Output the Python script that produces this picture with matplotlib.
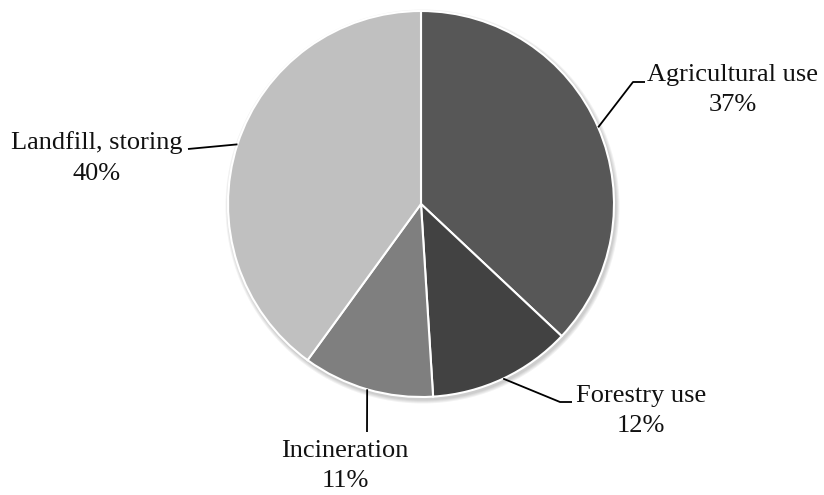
import matplotlib
matplotlib.use("Agg")
import matplotlib.pyplot as plt
from matplotlib.patches import Circle
import numpy as np

categories = ["Agricultural use", "Forestry use", "Incineration", "Landfill, storing"]
values = [37, 12, 11, 40]
colors = ["#575757", "#424242", "#7f7f7f", "#c0c0c0"]

W, H = 824, 495
fig = plt.figure(figsize=(W / 100, H / 100), dpi=100)
ax = fig.add_axes([0, 0, 1, 1])

cx, cy, r = 421, H - 204, 193

# soft shadow
for k in range(4):
    ax.add_patch(Circle((cx + 1.5, cy - 2.5), r + 1 + k, facecolor="black",
                        edgecolor="none", alpha=0.05, zorder=0))

wedges, _ = ax.pie(values, startangle=90, counterclock=False, colors=colors,
                   center=(cx, cy), radius=r, frame=True,
                   wedgeprops=dict(edgecolor="white", linewidth=1.5, zorder=2))
ax.set_xlim(0, W)
ax.set_ylim(0, H)
ax.set_aspect("equal")
ax.axis("off")

# label layout (pixel coords from top): elbow points and text centers
layout = {
    "Agricultural use": dict(path=[(633, 82), (645, 82)], text=(733, 90)),
    "Forestry use": dict(path=[(560, 402), (572, 402)], text=(641, 411)),
    "Incineration": dict(path=[(367, 432)], text=(345, 466)),
    "Landfill, storing": dict(path=[(188, 149)], text=(97, 158)),
}

total = sum(values)
for w, cat, v in zip(wedges, categories, values):
    ang = np.deg2rad((w.theta1 + w.theta2) / 2)
    ex, ey = cx + r * np.cos(ang), cy + r * np.sin(ang)
    lay = layout[cat]
    xs = [ex] + [p[0] for p in lay["path"]]
    ys = [ey] + [H - p[1] for p in lay["path"]]
    ax.plot(xs, ys, color="black", lw=1.3, solid_capstyle="butt", zorder=3)
    tx, ty = lay["text"]
    ax.text(tx, H - ty, f"{cat}\n{round(100 * v / total)}%", ha="center", va="center",
            multialignment="center", fontsize=19, family="Liberation Serif",
            color="#111111", linespacing=1.5)

fig.savefig("out.png", dpi=100)
